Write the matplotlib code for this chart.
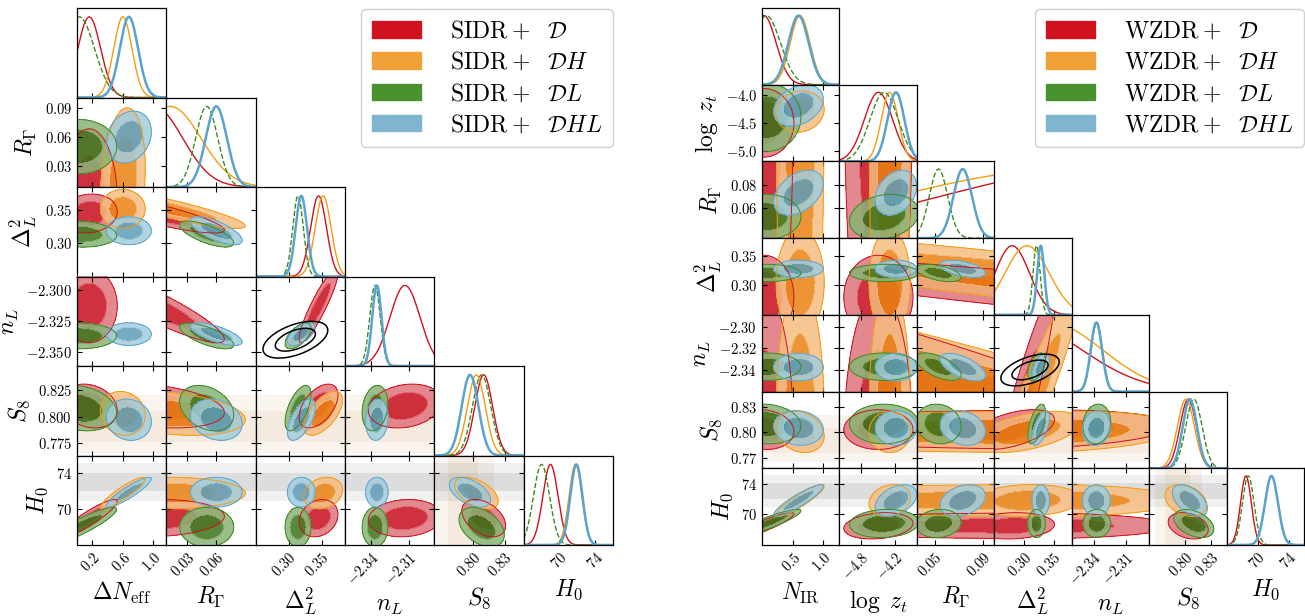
import numpy as np
import matplotlib
matplotlib.use('Agg')
import matplotlib.pyplot as plt
from matplotlib.patches import Patch

plt.rcParams['mathtext.fontset'] = 'cm'
plt.rcParams['font.family'] = ['DejaVu Serif']

W, H = 1305, 616

# ---------------- SIDR triangle ----------------
sidr_labels = [r'$\Delta N_{\rm eff}$', r'$R_\Gamma$', r'$\Delta_L^2$', r'$n_L$', r'$S_8$', r'$H_0$']
sidr_lims = [(0.0, 1.17), (0.008, 0.101), (0.25, 0.385), (-2.361, -2.2895), (0.763, 0.848), (66.0, 76.0)]
sidr_xticks = [[0.2, 0.6, 1.0], [0.03, 0.06], [0.30, 0.35], [-2.34, -2.31], [0.80, 0.83], [70, 74]]
sidr_xticklabels = [['0.2', '0.6', '1.0'], ['0.03', '0.06'], ['0.30', '0.35'], ['-2.34', '-2.31'],
                    ['0.80', '0.83'], ['70', '74']]
sidr_yticks = [[], [0.03, 0.06, 0.09], [0.30, 0.35], [-2.350, -2.325, -2.300], [0.775, 0.800, 0.825], [70, 74]]
sidr_yticklabels = [[], ['0.03', '0.06', '0.09'], ['0.30', '0.35'], ['-2.350', '-2.325', '-2.300'],
                    ['0.775', '0.800', '0.825'], ['70', '74']]

# mean / sigma per parameter, correlations in pair order (0,1),(0,2),...,(4,5)
sidr_mean_D = [0.16, -0.005, 0.345, -2.313, 0.810, 69.0]
sidr_sig_D = [0.15, 0.030, 0.012, 0.012, 0.0085, 0.85]
sidr_rho_D = [0.0, 0.1, 0.0, -0.2, 0.9,
              -0.85, -0.9, -0.3, 0.1,
              0.9, 0.5, 0.2,
              0.2, 0.1,
              -0.4]

sidr_mean_DH = [0.60, 0.012, 0.352, np.nan, 0.803, 71.8]
sidr_sig_DH = [0.12, 0.032, 0.012, np.nan, 0.0085, 0.72]
sidr_rho_DH = [0.2, 0.0, 0.0, -0.1, 0.9,
               -0.88, 0.0, -0.3, 0.0,
               0.0, 0.6, 0.2,
               0.0, 0.0,
               -0.5]

sidr_mean_DL = [0.03, 0.050, 0.314, -2.337, 0.808, 68.0]
sidr_sig_DL = [0.20, 0.0115, 0.008, 0.0042, 0.0088, 0.9]
sidr_rho_DL = [0.0, -0.1, 0.0, -0.2, 0.9,
               -0.7, -0.7, -0.3, 0.0,
               0.6, 0.6, 0.0,
               0.2, 0.0,
               -0.4]

sidr_mean_DHL = [0.68, 0.060, 0.319, -2.3355, 0.797, 71.9]
sidr_sig_DHL = [0.12, 0.011, 0.0086, 0.0037, 0.008, 0.68]
sidr_rho_DHL = [0.2, 0.0, 0.0, -0.1, 0.9,
                -0.7, -0.7, -0.2, 0.0,
                0.6, 0.6, 0.0,
                0.1, 0.0,
                -0.5]

# ---------------- WZDR triangle ----------------
wzdr_labels = [r'$N_{\rm IR}$', r'$\log\ z_t$', r'$R_\Gamma$', r'$\Delta_L^2$', r'$n_L$', r'$S_8$', r'$H_0$']
wzdr_lims = [(0.0, 1.26), (-5.19, -3.82), (0.035, 0.0995), (0.25, 0.38), (-2.36, -2.289), (0.758, 0.848), (66.0, 76.0)]
wzdr_xticks = [[0.5, 1.0], [-4.8, -4.2], [0.05, 0.09], [0.30, 0.35], [-2.34, -2.31], [0.80, 0.83], [70, 74]]
wzdr_xticklabels = [['0.5', '1.0'], ['-4.8', '-4.2'], ['0.05', '0.09'], ['0.30', '0.35'], ['-2.34', '-2.31'],
                    ['0.80', '0.83'], ['70', '74']]
wzdr_yticks = [[], [-5.0, -4.5, -4.0], [0.06, 0.08], [0.30, 0.35], [-2.34, -2.32, -2.30], [0.77, 0.80, 0.83], [70, 74]]
wzdr_yticklabels = [[], ['-5.0', '-4.5', '-4.0'], ['0.06', '0.08'], ['0.30', '0.35'], ['-2.34', '-2.32', '-2.30'],
                    ['0.77', '0.80', '0.83'], ['70', '74']]

# pair order (0,1)...(0,6),(1,2)...(1,6),(2,3)...,(5,6)
wzdr_mean_D = [0.03, -4.50, 0.19, 0.280, -2.409, 0.8034, 68.5]
wzdr_sig_D = [0.20, 0.25, 0.135, 0.029, 0.058, 0.0095, 0.7]
wzdr_rho_D = [0.0, 0.0, 0.0, 0.0, -0.1, 0.9,
              0.0, 0.0, 0.0, 0.0, 0.2,
              -0.9, -0.95, 0.0, 0.0,
              0.95, 0.5, 0.1,
              0.2, 0.0,
              -0.3]

wzdr_mean_DH = [0.62, -4.30, 0.162, 0.305, -2.3815, 0.8007, 71.8]
wzdr_sig_DH = [0.16, 0.15, 0.145, 0.037, 0.0495, 0.0099, 0.85]
wzdr_rho_DH = [0.1, 0.0, 0.0, 0.0, -0.2, 0.9,
               0.0, 0.0, 0.0, 0.0, 0.2,
               -0.9, -0.95, 0.0, 0.0,
               0.95, 0.5, 0.1,
               0.2, 0.0,
               -0.3]

wzdr_mean_DL = [0.07, -4.40, 0.053, 0.321, -2.337, 0.810, 68.8]
wzdr_sig_DL = [0.23, 0.25, 0.0077, 0.006, 0.0052, 0.0095, 0.75]
wzdr_rho_DL = [0.0, 0.0, 0.0, 0.0, -0.1, 0.9,
               0.2, 0.0, 0.0, 0.0, 0.1,
               -0.5, -0.6, -0.1, 0.1,
               0.5, 0.6, 0.0,
               0.1, 0.0,
               -0.4]

wzdr_mean_DHL = [0.594, -4.19, 0.0732, 0.328, -2.3374, 0.8053, 71.8]
wzdr_sig_DHL = [0.165, 0.15, 0.0077, 0.006, 0.0052, 0.0083, 0.84]
wzdr_rho_DHL = [0.3, 0.4, 0.0, 0.0, -0.1, 0.9,
                0.3, 0.0, 0.0, 0.0, 0.4,
                -0.5, -0.6, -0.2, 0.3,
                0.5, 0.6, 0.0,
                0.1, 0.0,
                -0.5]

# external measurements
s8_band_1s = (0.776, 0.805)
s8_band_2s = (0.765, 0.820)
h0_band_1s = (72.0, 74.08)
h0_band_2s = (70.96, 75.12)
lya_mean = [0.310, -2.340]
lya_sig = [0.020, 0.006]
lya_rho = 0.512

# styles: legend colour, 2D inner, 2D outer, line colour, linestyle, linewidth
legend_colors = ['#d0121f', '#f0a238', '#4a9130', '#7fb5cf']
fill_inner = ['#c80d1c', '#ea8210', '#3a7418', '#5f9cb8']
fill_outer = ['#e0737c', '#f5bc80', '#8ab476', '#a3cddc']
line_colors = ['#d0101e', '#f39c12', '#3c8a1e', '#5aa3cc']
line_styles = ['-', '-', '--', '-']
line_widths = [1.0, 1.0, 1.0, 1.8]

CHI2_68, CHI2_95 = 2.30, 5.99


def corr_matrix(rho, n):
    c = np.eye(n)
    k = 0
    for i in range(n):
        for j in range(i + 1, n):
            c[i, j] = c[j, i] = rho[k]
            k += 1
    return c


def chi2_grid(X, Y, mx, my, sx, sy, r):
    dx = (X - mx) / sx
    dy = (Y - my) / sy
    return (dx ** 2 - 2 * r * dx * dy + dy ** 2) / (1 - r ** 2)


def style_ticks(ax, diag=False):
    ax.tick_params(direction='in', length=3.5, width=0.8, labelsize=10.5,
                   top=not diag, right=not diag, left=not diag, bottom=True,
                   labelleft=False, labelbottom=False)
    for sp in ax.spines.values():
        sp.set_linewidth(0.9)


def draw_triangle(x0, pw, ph, labels, lims, xticks, xtl, yticks, ytl, runs, s8_idx, h0_idx, lya_idx):
    n = len(labels)
    for i in range(n):
        for j in range(i + 1):
            left = x0 + j * pw
            top = 8 + i * ph
            ax = fig.add_axes([left / W, 1 - (top + ph) / H, pw / W, ph / H])
            ax.set_xlim(lims[j])
            ax.set_xticks(xticks[j])
            if i == j:
                style_ticks(ax, diag=True)
                x = np.linspace(lims[j][0], lims[j][1], 400)
                for k, (m, s, rho) in enumerate(runs):
                    if np.isnan(m[j]):
                        continue
                    y = np.exp(-0.5 * ((x - m[j]) / s[j]) ** 2)
                    ax.plot(x, y, color=line_colors[k], ls=line_styles[k], lw=line_widths[k])
                ax.set_ylim(0, 1.11)
                ax.set_yticks([])
            else:
                style_ticks(ax)
                ax.set_ylim(lims[i])
                ax.set_yticks(yticks[i])
                # external bands
                if i == s8_idx:
                    ax.axhspan(*s8_band_2s, color='#c8965f', alpha=0.1, lw=0)
                    ax.axhspan(*s8_band_1s, color='#c8965f', alpha=0.1, lw=0)
                if j == s8_idx:
                    ax.axvspan(*s8_band_2s, color='#c8965f', alpha=0.1, lw=0)
                    ax.axvspan(*s8_band_1s, color='#c8965f', alpha=0.1, lw=0)
                if i == h0_idx:
                    ax.axhspan(*h0_band_2s, color='k', alpha=0.06, lw=0)
                    ax.axhspan(*h0_band_1s, color='k', alpha=0.08, lw=0)
                gx = np.linspace(lims[j][0], lims[j][1], 220)
                gy = np.linspace(lims[i][0], lims[i][1], 220)
                X, Y = np.meshgrid(gx, gy)
                grids = []
                for k, (m, s, rho) in enumerate(runs):
                    if np.isnan(m[i]) or np.isnan(m[j]):
                        grids.append(None)
                        continue
                    c = corr_matrix(rho, n)
                    z = chi2_grid(X, Y, m[j], m[i], s[j], s[i], c[i, j])
                    grids.append(z)
                    ax.contourf(X, Y, z, levels=[-1, CHI2_68, CHI2_95],
                                colors=[fill_inner[k], fill_outer[k]], alpha=0.85)
                for k, z in enumerate(grids):
                    if z is None:
                        continue
                    ax.contour(X, Y, z, levels=[CHI2_95], colors=[line_colors[k]], linewidths=0.7)
                if (j, i) == lya_idx:
                    z = chi2_grid(X, Y, lya_mean[0], lya_mean[1], lya_sig[0], lya_sig[1], lya_rho)
                    ax.contour(X, Y, z, levels=[CHI2_68, CHI2_95], colors='k', linewidths=1.1)
            if j == 0 and i > 0:
                ax.tick_params(labelleft=True)
                ax.set_yticklabels(['$' + t + '$' for t in ytl[i]])
                ax.set_ylabel(labels[i], fontsize=17)
            if i == n - 1:
                ax.tick_params(labelbottom=True)
                ax.set_xticklabels(['$' + t + '$' for t in xtl[j]], rotation=45,
                                   ha='right', rotation_mode='anchor')
                ax.set_xlabel(labels[j], fontsize=17)


fig = plt.figure(figsize=(W / 100, H / 100), dpi=100)

sidr_runs = [(sidr_mean_D, sidr_sig_D, sidr_rho_D), (sidr_mean_DH, sidr_sig_DH, sidr_rho_DH),
             (sidr_mean_DL, sidr_sig_DL, sidr_rho_DL), (sidr_mean_DHL, sidr_sig_DHL, sidr_rho_DHL)]
wzdr_runs = [(wzdr_mean_D, wzdr_sig_D, wzdr_rho_D), (wzdr_mean_DH, wzdr_sig_DH, wzdr_rho_DH),
             (wzdr_mean_DL, wzdr_sig_DL, wzdr_rho_DL), (wzdr_mean_DHL, wzdr_sig_DHL, wzdr_rho_DHL)]

draw_triangle(77, (613 - 77) / 6, (545 - 8) / 6, sidr_labels, sidr_lims, sidr_xticks, sidr_xticklabels,
              sidr_yticks, sidr_yticklabels, sidr_runs, s8_idx=4, h0_idx=5, lya_idx=(2, 3))
draw_triangle(762, (1304 - 762) / 7, (545 - 8) / 7, wzdr_labels, wzdr_lims, wzdr_xticks, wzdr_xticklabels,
              wzdr_yticks, wzdr_yticklabels, wzdr_runs, s8_idx=5, h0_idx=6, lya_idx=(3, 4))

dsets = [r'\mathcal{D}', r'\mathcal{D}H', r'\mathcal{D}L', r'\mathcal{D}HL']
for name, xr in [('SIDR', 613), ('WZDR', 1304)]:
    handles = [Patch(facecolor=c, edgecolor=c) for c in legend_colors]
    labs = [r'$\mathrm{' + name + r'}+\ \ ' + d + '$' for d in dsets]
    fig.legend(handles, labs, loc='upper right', bbox_to_anchor=(xr / W, 1 - 9 / H),
               fontsize=17, frameon=True, fancybox=True, edgecolor='#d0d0d0', framealpha=1,
               handlelength=2.1, handleheight=0.7, labelspacing=0.35, borderpad=0.45,
               handletextpad=1.2, borderaxespad=0)

fig.savefig('out.png', dpi=100)
